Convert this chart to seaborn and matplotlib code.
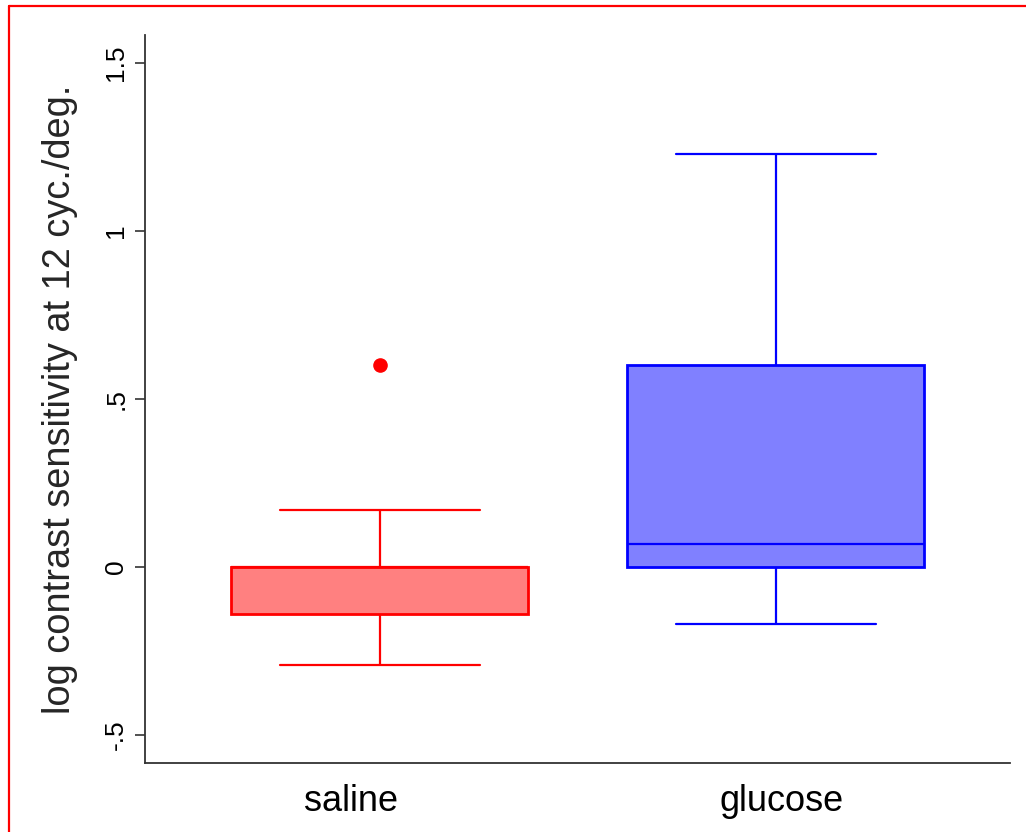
import numpy as np
import pandas as pd
import matplotlib
matplotlib.use("Agg")
import matplotlib.pyplot as plt
from matplotlib.lines import Line2D
import seaborn as sns

# Box summaries per treatment group (lower whisker, Q1, median, Q3, upper whisker)
groups = ["saline", "glucose"]
whisker_low = [-0.29, -0.17]
q1 = [-0.14, 0.00]
median = [0.00, 0.07]
q3 = [0.00, 0.60]
whisker_high = [0.17, 1.23]
outliers = [[0.60], []]

face_colors = ["#FF8080", "#8080FF"]
edge_colors = ["#FF0000", "#0000FF"]

yticks = [-0.5, 0, 0.5, 1, 1.5]
ytick_labels = ["-.5", "0", ".5", "1", "1.5"]
ylabel = "log contrast sensitivity at 12 cyc./deg."

# Build a sample per group whose quartiles reproduce the summaries above
rows = []
for i, g in enumerate(groups):
    if outliers[i]:
        vals = [whisker_low[i], q1[i], q1[i], median[i], median[i],
                q3[i], q3[i], whisker_high[i]] + outliers[i]
    else:
        vals = [whisker_low[i], q1[i], median[i], q3[i], whisker_high[i]]
    rows += [(g, v) for v in vals]
df = pd.DataFrame(rows, columns=["group", "value"])

sns.set_theme(style="white")
plt.rcParams["font.family"] = ["Liberation Sans", "DejaVu Sans"]

fig = plt.figure(figsize=(10.26, 8.32), dpi=100)
ax = fig.add_axes([0.1413, 0.0829, 0.8431, 0.8751])

for i, g in enumerate(groups):
    sub = df[df["group"] == g]
    sns.boxplot(
        data=sub, x="group", y="value", order=groups, ax=ax,
        width=0.75, whis=1.5, color=face_colors[i], linecolor=edge_colors[i],
        linewidth=1.6, saturation=1, capwidths=0.505,
        boxprops=dict(facecolor=face_colors[i], edgecolor=edge_colors[i], linewidth=2.0),
        flierprops=dict(marker="o", markerfacecolor=edge_colors[i],
                        markeredgecolor=edge_colors[i], markersize=9.5),
    )

ax.set_xlim(-0.593, 1.591)
ax.set_ylim(-0.583, 1.583)
ax.set_yticks(yticks)
ax.set_yticklabels(ytick_labels, rotation=90, va="center", fontsize=19)
# category labels sit slightly off the box centres
ax.set_xticks([-0.073, 1.013])
ax.set_xticklabels(groups, fontsize=26)
ax.set_xlabel("")
ax.set_ylabel(ylabel, fontsize=27.4)
ax.yaxis.set_label_coords(-0.078, 0.499)

for side in ["top", "right"]:
    ax.spines[side].set_visible(False)
for side in ["left", "bottom"]:
    ax.spines[side].set_color("#333333")
    ax.spines[side].set_linewidth(1.3)

ax.tick_params(axis="y", left=True, length=7, width=1.2, color="#333333",
               pad=5, labelcolor="black")
ax.tick_params(axis="x", bottom=False, length=0, pad=15, labelcolor="black")

# Red frame around the figure
fig.add_artist(Line2D([0.0088, 1.0], [0.9922, 0.9922], transform=fig.transFigure,
                      color="#FF0000", linewidth=1.6))
fig.add_artist(Line2D([0.0088, 0.0088], [0.0, 0.9922], transform=fig.transFigure,
                      color="#FF0000", linewidth=1.6))

fig.savefig("out.png", dpi=100)
